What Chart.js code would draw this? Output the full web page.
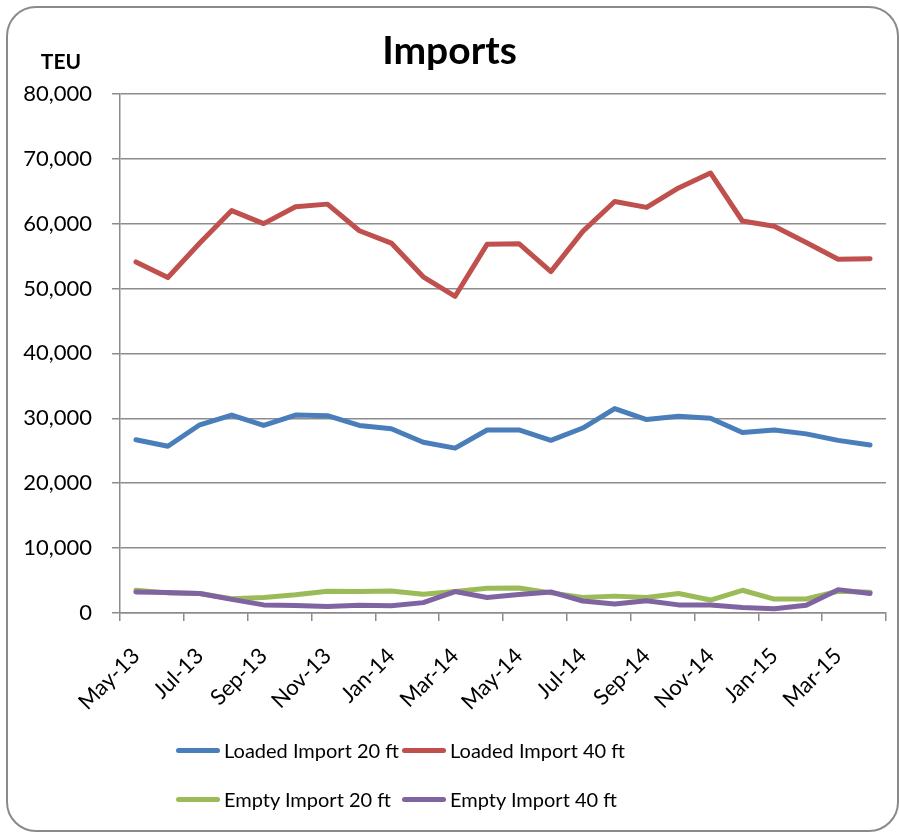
<!DOCTYPE html>
<html>
<head>
<meta charset="utf-8">
<script src="https://cdn.jsdelivr.net/npm/chart.js@4/dist/chart.umd.min.js"></script>
<style>
  html, body { margin: 0; padding: 0; background: #fff; }
  #wrap { position: relative; width: 899px; height: 832px; overflow: hidden; }
  #c { position: absolute; left: 0; top: 0; }
  #frame { position: absolute; left: 6px; top: 6px; width: 889px; height: 822px;
           border: 2px solid #8a8a8a; border-radius: 30px; pointer-events: none; box-sizing: content-box; }
  .lg { position: absolute; display: flex; align-items: center; font-family: Lato, "Open Sans", sans-serif;
        font-size: 20px; color: #000; white-space: nowrap; transform: translateY(-50%); }
  .lg .sw { display: inline-block; width: 44px; height: 5px; border-radius: 3px; margin-right: 4px; }
</style>
</head>
<body>
<div id="wrap">
  <canvas id="c" width="899" height="832"></canvas>
  <div id="frame"></div>
</div>
<script>
const months = ["May-13","Jun-13","Jul-13","Aug-13","Sep-13","Oct-13","Nov-13","Dec-13",
                "Jan-14","Feb-14","Mar-14","Apr-14","May-14","Jun-14","Jul-14","Aug-14",
                "Sep-14","Oct-14","Nov-14","Dec-14","Jan-15","Feb-15","Mar-15","Apr-15"];
const loaded20 = [26700,25700,29000,30500,28900,30500,30400,28900,28400,26300,25400,28200,
                  28200,26600,28500,31500,29800,30300,30000,27800,28200,27600,26600,25900];
const loaded40 = [54100,51700,57000,62000,60000,62600,63000,58900,57000,51800,48800,56800,
                  56900,52600,58800,63400,62500,65500,67800,60400,59600,57100,54500,54600];
const empty20  = [3500,3100,3000,2200,2400,2800,3350,3300,3400,2900,3300,3800,
                  3850,3100,2400,2600,2400,3000,2000,3500,2150,2150,3350,3200];
const empty40  = [3250,3150,3000,2100,1250,1150,1000,1200,1100,1600,3300,2400,
                  2850,3250,1850,1400,1900,1250,1250,850,650,1200,3600,3000];
const seriesNames = ["Loaded Import 20 ft","Loaded Import 40 ft","Empty Import 20 ft","Empty Import 40 ft"];
const seriesColors = ["#4a7ebb","#c0504d","#9bbb59","#8064a2"];
const yTicks = [0,10000,20000,30000,40000,50000,60000,70000,80000];

const GRID = "#8c8c8c";
const FONT = "Lato, 'Open Sans', sans-serif";

const values = [loaded20, loaded40, empty20, empty40];
const datasets = values.map((v, i) => ({
  label: seriesNames[i],
  data: v,
  borderColor: seriesColors[i],
  backgroundColor: seriesColors[i],
  borderWidth: 5,
  pointRadius: 0,
  tension: 0,
  fill: false,
  borderJoinStyle: "round",
  borderCapStyle: "round",
  order: 4 - i
}));

const teuPlugin = {
  id: "teu",
  afterDraw(chart) {
    const ctx = chart.ctx;
    ctx.save();
    ctx.font = "bold 21px " + FONT;
    ctx.fillStyle = "#000";
    ctx.textAlign = "center";
    ctx.textBaseline = "middle";
    ctx.fillText("TEU", 61, 62);
    ctx.restore();
  }
};

new Chart(document.getElementById("c"), {
  type: "line",
  data: { labels: months, datasets },
  plugins: [teuPlugin],
  options: {
    responsive: false,
    animation: false,
    devicePixelRatio: 1,
    layout: { padding: 0 },
    plugins: {
      legend: { display: false },
      tooltip: { enabled: false },
      title: {
        display: true,
        text: "Imports",
        color: "#000",
        font: { family: FONT, size: 39, weight: "bold", lineHeight: 1.2 },
        padding: { top: 28, bottom: 19 }
      }
    },
    scales: {
      x: {
        type: "category",
        offset: true,
        grid: {
          offset: true,
          drawOnChartArea: false,
          drawTicks: true,
          tickLength: 8,
          lineWidth: 1.5,
          color: (c) => (c.type !== "tick" || c.index % 2 === 0) ? GRID : "rgba(0,0,0,0)"
        },
        border: { display: true, color: GRID, width: 1.5 },
        ticks: {
          autoSkip: false,
          minRotation: 45,
          maxRotation: 45,
          padding: 22,
          color: "#000",
          font: { family: FONT, size: 22 },
          callback: function (val, idx) { return idx % 2 === 0 ? this.getLabelForValue(val) : ""; }
        },
        afterFit: (s) => { s.height = 219; s.paddingRight = 13; s.paddingLeft = 0; }
      },
      y: {
        min: 0,
        max: 80000,
        afterBuildTicks: (s) => { s.ticks = yTicks.map(v => ({ value: v })); },
        grid: { color: GRID, lineWidth: 1.5, tickLength: 8, drawTicks: true },
        border: { display: true, color: GRID, width: 1.5 },
        ticks: {
          padding: 20,
          color: "#000",
          font: { family: FONT, size: 22 },
          callback: (v) => v.toLocaleString("en-US")
        },
        afterFit: (s) => { s.width = 120; }
      }
    }
  }
});

// HTML legend built from series names/colors
const wrap = document.getElementById("wrap");
const legendPos = [[176, 750], [402, 750], [176, 799], [402, 799]];
seriesNames.forEach((name, i) => {
  const d = document.createElement("div");
  d.className = "lg";
  d.style.left = legendPos[i][0] + "px";
  d.style.top = legendPos[i][1] + "px";
  const sw = document.createElement("span");
  sw.className = "sw";
  sw.style.background = seriesColors[i];
  const t = document.createElement("span");
  t.textContent = name;
  d.appendChild(sw);
  d.appendChild(t);
  wrap.appendChild(d);
});
</script>
</body>
</html>
